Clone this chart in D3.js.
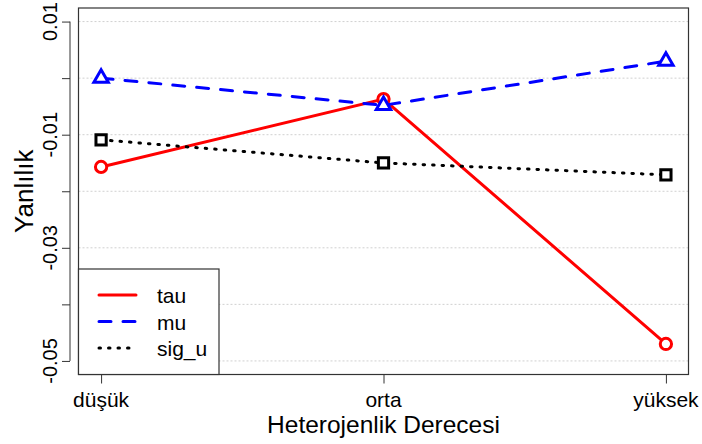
<!DOCTYPE html>
<html>
<head>
<meta charset="utf-8">
<script src="https://cdn.jsdelivr.net/npm/d3@7"></script>
<style>
    body { margin: 0; background: #fff; }
    text { font-family: "Liberation Sans", Arial, sans-serif; fill: #000; }
</style>
</head>
<body>
<div id="chart"></div>
<script>
// values
const categories = ["düşük", "orta", "yüksek"];
const tauValues = [-0.0157, -0.0037, -0.0470];
const muValues = [0.0000, -0.0048, 0.0030];
const sigUValues = [-0.0109, -0.0150, -0.0171];
const yTicks = [0.01, 0, -0.01, -0.02, -0.03, -0.04, -0.05];
const yTickLabels = ["0.01", "", "-0.01", "", "-0.03", "", "-0.05"];
const seriesNames = ["tau", "mu", "sig_u"];

const WIDTH = 702, HEIGHT = 444;
const BOX = { left: 78.5, right: 688.5, top: 8, bottom: 374.5 };

const STYLE = {
    tau: { color: "#ff0000", dash: null, shape: "circle" },
    mu: { color: "#0000ff", dash: "12,12", shape: "triangle" },
    sig_u: { color: "#000000", dash: "1.5,8", shape: "square" }
};

let svg = d3.select("#chart")
    .append("svg")
    .attr("width", WIDTH)
    .attr("height", HEIGHT);

// R style axis ranges: data range padded 4% each side
let x = d3.scaleLinear()
    .domain([-0.08, 2.08])
    .range([BOX.left, BOX.right]);
let y = d3.scaleLinear()
    .domain([-0.0524, 0.0124])
    .range([BOX.bottom, BOX.top]);

// grid
svg.append("g")
    .selectAll("line")
    .data(yTicks)
    .enter()
    .append("line")
    .attr("x1", BOX.left)
    .attr("x2", BOX.right)
    .attr("y1", function (d) { return y(d); })
    .attr("y2", function (d) { return y(d); })
    .attr("stroke", "#d0d0d0")
    .attr("stroke-width", 1)
    .attr("stroke-dasharray", "2,2");

// y axis, offset from the box
let yAxis = svg.append("g")
    .attr("transform", "translate(70,0)")
    .call(d3.axisLeft(y).tickValues(yTicks).tickSize(8).tickFormat(""));
yAxis.select(".domain")
    .attr("d", "M0," + y(0.01) + "V" + y(-0.05))
    .attr("stroke", "#333");
yAxis.selectAll(".tick line").attr("stroke", "#333");

svg.append("g")
    .selectAll("text")
    .data(yTicks)
    .enter()
    .append("text")
    .attr("transform", function (d) { return "translate(57," + y(d) + ") rotate(-90)"; })
    .attr("text-anchor", "middle")
    .style("font-size", "20px")
    .text(function (d, i) { return yTickLabels[i]; });

// x axis
let xAxis = svg.append("g")
    .attr("transform", "translate(0," + BOX.bottom + ")")
    .call(d3.axisBottom(x).tickValues([0, 1, 2]).tickSize(9).tickFormat(""));
xAxis.select(".domain").remove();
xAxis.selectAll(".tick line").attr("stroke", "#333");

svg.append("g")
    .selectAll("text")
    .data(categories)
    .enter()
    .append("text")
    .attr("x", function (d, i) { return x(i); })
    .attr("y", 407)
    .attr("text-anchor", "middle")
    .style("font-size", "21px")
    .text(function (d) { return d; });

// axis titles
svg.append("text")
    .attr("x", (BOX.left + BOX.right) / 2)
    .attr("y", 433)
    .attr("text-anchor", "middle")
    .style("font-size", "24.5px")
    .text("Heterojenlik Derecesi");
svg.append("text")
    .attr("transform", "translate(33," + ((BOX.top + BOX.bottom) / 2) + ") rotate(-90)")
    .attr("text-anchor", "middle")
    .style("font-size", "26px")
    .text("Yanlılık");

// series
const allSeries = [
    { name: "tau", values: tauValues },
    { name: "mu", values: muValues },
    { name: "sig_u", values: sigUValues }
];

let line = d3.line()
    .x(function (d, i) { return x(i); })
    .y(function (d) { return y(d); });

allSeries.forEach(function (s) {
    svg.append("path")
        .datum(s.values)
        .attr("d", line)
        .attr("fill", "none")
        .attr("stroke", STYLE[s.name].color)
        .attr("stroke-width", 3)
        .attr("stroke-linecap", "round")
        .attr("stroke-dasharray", STYLE[s.name].dash);
});

let symbols = {
    circle: d3.symbol().type(d3.symbolCircle).size(100),
    triangle: d3.symbol().type(d3.symbolTriangle).size(90),
    square: d3.symbol().type(d3.symbolSquare).size(105)
};

allSeries.forEach(function (s) {
    let st = STYLE[s.name];
    svg.append("g")
        .selectAll("path")
        .data(s.values)
        .enter()
        .append("path")
        .attr("transform", function (d, i) { return "translate(" + x(i) + "," + y(d) + ")"; })
        .attr("d", symbols[st.shape])
        .attr("fill", "#fff")
        .attr("stroke", st.color)
        .attr("stroke-width", 3);
});

// box
svg.append("rect")
    .attr("x", BOX.left)
    .attr("y", BOX.top)
    .attr("width", BOX.right - BOX.left)
    .attr("height", BOX.bottom - BOX.top)
    .attr("fill", "none")
    .attr("stroke", "#333")
    .attr("stroke-width", 1.2);

// legend
let legend = svg.append("g");
legend.append("rect")
    .attr("x", BOX.left)
    .attr("y", 269)
    .attr("width", 219 - BOX.left)
    .attr("height", BOX.bottom - 269)
    .attr("fill", "#fff")
    .attr("stroke", "#333")
    .attr("stroke-width", 1.2);

let legendY = d3.scalePoint()
    .domain(seriesNames)
    .range([295, 348]);

seriesNames.forEach(function (name) {
    legend.append("line")
        .attr("x1", 99)
        .attr("x2", 136)
        .attr("y1", legendY(name))
        .attr("y2", legendY(name))
        .attr("stroke", STYLE[name].color)
        .attr("stroke-width", 3)
        .attr("stroke-linecap", "round")
        .attr("stroke-dasharray", STYLE[name].dash);
    legend.append("text")
        .attr("x", 157)
        .attr("y", legendY(name) + 8)
        .style("font-size", "21px")
        .text(name);
});
</script>
</body>
</html>
